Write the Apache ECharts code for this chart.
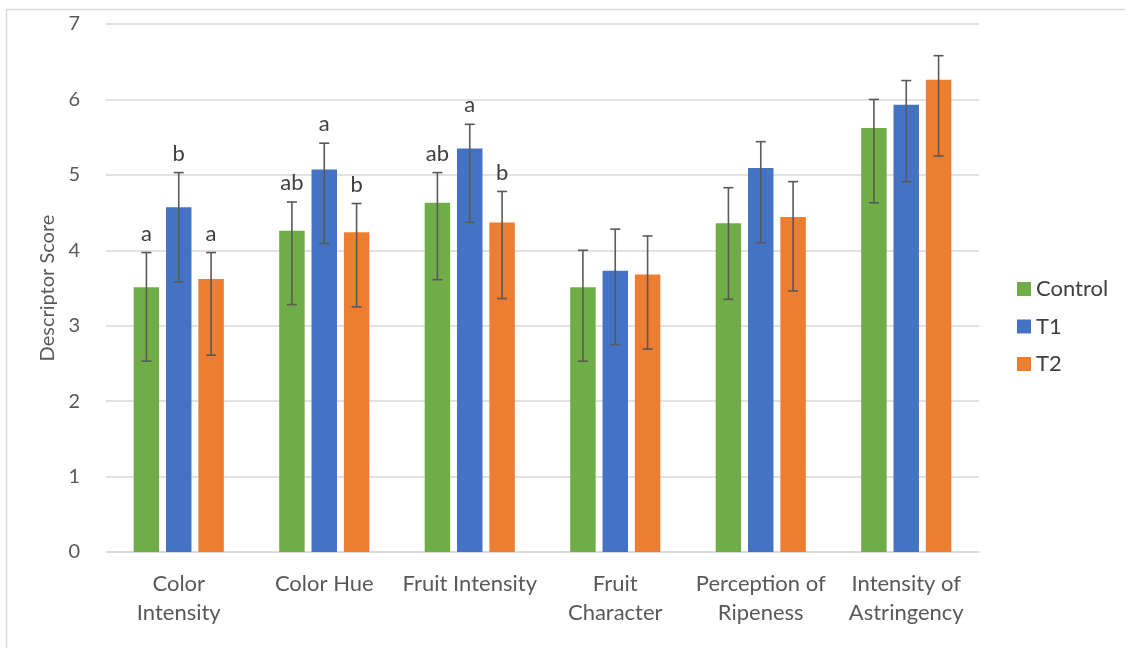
<!DOCTYPE html>
<html>
<head>
<meta charset="utf-8">
<script src="https://cdn.jsdelivr.net/npm/echarts@6/dist/echarts.min.js"></script>
<style>
  html, body { margin: 0; padding: 0; background: #fff; }
  #main { width: 1125px; height: 648px; }
</style>
</head>
<body>
<div id="main"></div>
<script>
    var categories = ['Color\nIntensity', 'Color Hue', 'Fruit Intensity', 'Fruit\nCharacter', 'Perception of\nRipeness', 'Intensity of\nAstringency'];
    var seriesNames = ['Control', 'T1', 'T2'];
    var colors = ['#70ad47', '#4472c4', '#ed7d31'];

    // bar heights
    var controlValues = [3.51, 4.26, 4.63, 3.51, 4.36, 5.62];
    var t1Values = [4.57, 5.07, 5.35, 3.73, 5.09, 5.93];
    var t2Values = [3.62, 4.24, 4.37, 3.68, 4.44, 6.26];

    // error bar ends (low / high)
    var controlLow = [2.53, 3.28, 3.61, 2.53, 3.35, 4.63];
    var controlHigh = [3.97, 4.64, 5.03, 4.00, 4.83, 6.00];
    var t1Low = [3.58, 4.09, 4.37, 2.75, 4.10, 4.91];
    var t1High = [5.03, 5.42, 5.67, 4.28, 5.44, 6.25];
    var t2Low = [2.61, 3.25, 3.36, 2.69, 3.46, 5.25];
    var t2High = [3.97, 4.62, 4.78, 4.19, 4.91, 6.58];

    // significance letters
    var controlLetters = ['a', 'ab', 'ab', '', '', ''];
    var t1Letters = ['b', 'a', 'a', '', '', ''];
    var t2Letters = ['a', 'b', 'b', '', '', ''];

    var yTicks = [0, 1, 2, 3, 4, 5, 6, 7];

    var values = [controlValues, t1Values, t2Values];
    var lows = [controlLow, t1Low, t2Low];
    var highs = [controlHigh, t1High, t2High];
    var letters = [controlLetters, t1Letters, t2Letters];

    var BAR_W = 0.175, BAR_GAP = 0.27;
    var font = 'Lato, "Open Sans", sans-serif';

    function errorRender(groupIdx) {
        return function (params, api) {
            var cat = api.value(0);
            var band = api.size([1, 0])[0];
            var bw = band * BAR_W;
            var off = (groupIdx - 1) * bw * (1 + BAR_GAP);
            var lo = api.coord([cat, api.value(1)]);
            var hi = api.coord([cat, api.value(2)]);
            var x = lo[0] + off;
            var st = { stroke: '#595959', lineWidth: 1.6 };
            var kids = [
                { type: 'line', shape: { x1: x, y1: lo[1], x2: x, y2: hi[1] }, style: st },
                { type: 'line', shape: { x1: x - 5, y1: lo[1], x2: x + 5, y2: lo[1] }, style: st },
                { type: 'line', shape: { x1: x - 5, y1: hi[1], x2: x + 5, y2: hi[1] }, style: st }
            ];
            var txt = letters[groupIdx][params.dataIndex];
            if (txt) {
                kids.push({
                    type: 'text',
                    style: {
                        text: txt, x: x, y: hi[1] - 8,
                        align: 'center', verticalAlign: 'bottom',
                        fill: '#404040', font: '22px ' + font
                    }
                });
            }
            return { type: 'group', children: kids };
        };
    }

    var series = [];
    for (var i = 0; i < 3; i++) {
        series.push({
            name: seriesNames[i],
            type: 'bar',
            data: values[i],
            barWidth: (BAR_W * 100) + '%',
            barGap: (BAR_GAP * 100) + '%',
            itemStyle: { color: colors[i] },
            z: 2
        });
    }
    for (var j = 0; j < 3; j++) {
        series.push({
            type: 'custom',
            renderItem: errorRender(j),
            data: categories.map(function (c, k) { return [k, lows[j][k], highs[j][k]]; }),
            encode: { x: 0, y: [1, 2] },
            z: 5,
            silent: true
        });
    }

    var chart = echarts.init(document.getElementById('main'));
    chart.setOption({
        backgroundColor: '#fff',
        animation: false,
        graphic: [{
            type: 'polyline',
            shape: { points: [[6.5, 648], [6.5, 9.5], [1125, 9.5]] },
            style: { stroke: '#d9d9d9', lineWidth: 1.5, fill: null }
        }],
        grid: { left: 106, right: 146, top: 24, bottom: 96 },
        legend: {
            orient: 'vertical',
            left: 1012,
            top: 273,
            itemWidth: 14,
            itemHeight: 14,
            itemGap: 15.5,
            icon: 'rect',
            data: seriesNames,
            textStyle: { fontSize: 22, lineHeight: 22, color: '#404040', fontFamily: font }
        },
        xAxis: {
            type: 'category',
            data: categories,
            axisTick: { show: false },
            axisLine: { lineStyle: { color: '#d9d9d9', width: 1.5 } },
            axisLabel: {
                fontSize: 22, color: '#595959', fontFamily: font,
                margin: 17, lineHeight: 29, interval: 0
            }
        },
        yAxis: {
            type: 'value',
            min: yTicks[0],
            max: yTicks[yTicks.length - 1],
            interval: 1,
            name: 'Descriptor Score',
            nameLocation: 'middle',
            nameGap: 48,
            nameTextStyle: { fontSize: 20, color: '#595959', fontFamily: font },
            axisLine: { show: false },
            axisTick: { show: false },
            splitLine: { lineStyle: { color: '#d9d9d9', width: 1.5 } },
            axisLabel: { fontSize: 20, color: '#595959', fontFamily: font, margin: 26 }
        },
        series: series
    });
</script>
</body>
</html>
